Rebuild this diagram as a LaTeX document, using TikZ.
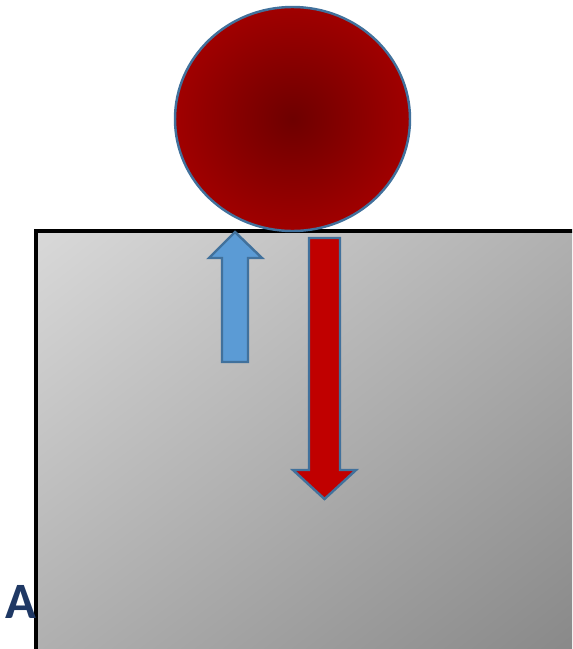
\documentclass[tikz,border=0pt]{standalone}
\usepackage{fontspec}
\usetikzlibrary{shadings}
\newfontfamily\labelfont{Carlito}
\definecolor{ballred}{HTML}{A00000}
\definecolor{balldark}{HTML}{6E0000}
\definecolor{edgeblue}{HTML}{41719C}
\definecolor{upblue}{HTML}{5B9BD5}
\definecolor{downred}{HTML}{C00000}
\definecolor{labelblue}{HTML}{1F3864}
\tikzset{
  forcearrow/.style={draw=edgeblue, line width=1.4pt, line join=miter},
}
\begin{document}
\begin{tikzpicture}[x=0.02cm, y=-0.02cm]
\useasboundingbox (0,0) rectangle (572,649);
\clip (0,0) rectangle (572,649);
% surface
\shade[upper left=black!15, upper right=black!33, lower left=black!33, lower right=black!50]
  (36,231) rectangle (640,700);
\draw[line width=1.8pt] (36,700) -- (36,231) -- (640,231);
% ball
\shade[inner color=balldark, outer color=ballred] (292.5,119) ellipse (117.5 and 112);
\draw[edgeblue, line width=1.4pt] (292.5,119) ellipse (117.5 and 112);
% normal force
\filldraw[forcearrow, fill=upblue] (235,232) -- (262,258) -- (248,258) -- (248,362)
  -- (222,362) -- (222,258) -- (209,258) -- cycle;
% weight
\filldraw[forcearrow, fill=downred] (309,238) -- (340,238) -- (340,470) -- (356,470)
  -- (324.5,499) -- (293,470) -- (309,470) -- cycle;
\node[text=labelblue, font=\labelfont\bfseries\fontsize{29}{31}\selectfont] (lblA) at (21,602) {A};
\end{tikzpicture}
\end{document}
